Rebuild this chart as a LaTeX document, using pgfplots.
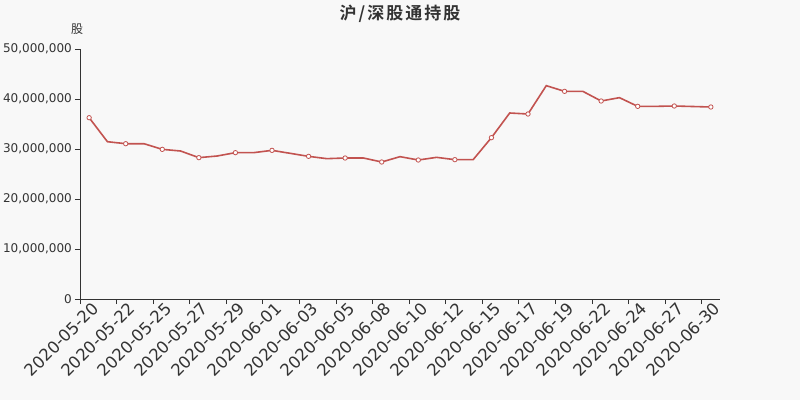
\documentclass[border=0pt]{standalone}
\usepackage{pgfplots}
\pgfplotsset{compat=1.18}
\usepackage{fontspec}
\setmainfont{DejaVu Sans}
\newfontfamily\cjk{Noto Sans CJK SC}
\newfontfamily\cjktitle[LetterSpace=12]{Noto Sans CJK SC Bold}
\definecolor{bgc}{RGB}{248,248,248}
\definecolor{linec}{RGB}{194,83,80}
\definecolor{axc}{RGB}{51,51,51}
\begin{document}
\begin{tikzpicture}
\path[use as bounding box, fill=bgc] (-80pt,-101pt) rectangle (720pt,299pt);
\begin{axis}[
  at={(0pt,0pt)}, anchor=south west,
  scale only axis, width=640pt, height=250pt,
  xmin=-0.5, xmax=34.5, ymin=0, ymax=50000000,
  scaled y ticks=false,
  axis lines*=left,
  axis line style={draw=axc, line width=0.9pt},
  tick style={draw=axc, line width=0.9pt},
  major tick length=5pt,
  tick align=outside,
  xtick={-0.5,1.5,...,33.5},
  xticklabels={},
  extra x ticks={0,2,...,34},
  extra x tick labels={2020-05-20,2020-05-22,2020-05-25,2020-05-27,2020-05-29,2020-06-01,2020-06-03,2020-06-05,2020-06-08,2020-06-10,2020-06-12,2020-06-15,2020-06-17,2020-06-19,2020-06-22,2020-06-24,2020-06-27,2020-06-30},
  extra x tick style={major tick length=0pt, tick style={draw=none},
    xticklabel style={rotate=45, anchor=east, font=\fontsize{16.5}{18}\selectfont, text=axc, yshift=-9pt, xshift=1pt, inner sep=1pt}},
  ytick={0,10000000,20000000,30000000,40000000,50000000},
  yticklabels={0,{10,000,000},{20,000,000},{30,000,000},{40,000,000},{50,000,000}},
  yticklabel style={font=\fontsize{12}{14}\selectfont, text=axc, inner sep=1pt, xshift=-2pt},
  clip=false,
]
\addplot[color=linec, line width=1.6pt, mark=*, mark repeat=2,
  mark options={fill=white, draw=linec, line width=0.8pt}, mark size=2.2pt]
  coordinates {
  (0,36260000) (1,31460000) (2,31060000) (3,31060000) (4,29930000)
  (5,29600000) (6,28270000) (7,28600000) (8,29270000) (9,29270000)
  (10,29730000) (11,29130000) (12,28530000) (13,28070000) (14,28200000)
  (15,28200000) (16,27400000) (17,28470000) (18,27800000) (19,28330000)
  (20,27870000) (21,27870000) (22,32270000) (23,37200000) (24,37000000)
  (25,42670000) (26,41530000) (27,41530000) (28,39600000) (29,40270000)
  (30,38530000) (31,38530000) (32,38600000) (33,38500000) (34,38400000)
  };
\end{axis}
\node[text=axc, font=\cjktitle\fontsize{17}{20}\selectfont] at (320pt,285pt) {沪/深股通持股};
\node[text=axc, font=\cjk\fontsize{12}{14}\selectfont] at (-3pt,270pt) {股};
\end{tikzpicture}
\end{document}
